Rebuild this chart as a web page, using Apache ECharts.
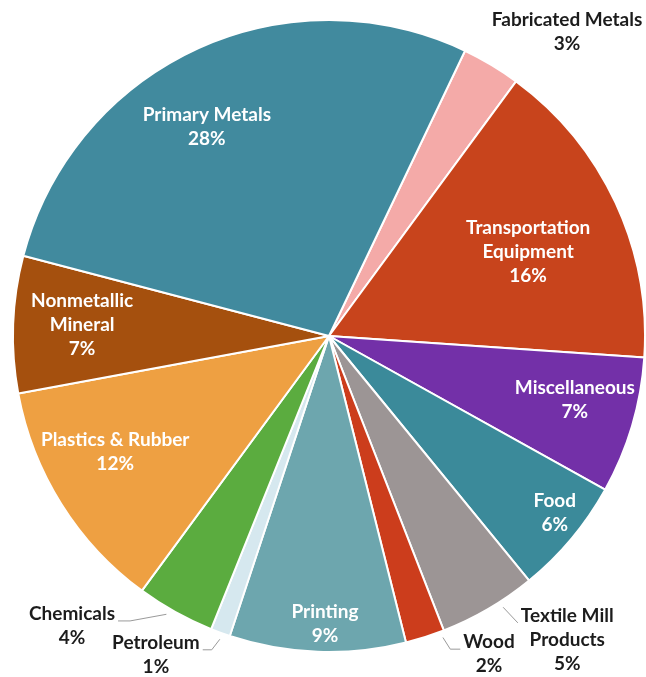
<!DOCTYPE html>
<html>
<head>
<meta charset="utf-8">
<script src="https://cdn.jsdelivr.net/npm/echarts@6/dist/echarts.min.js"></script>
<style>
  html, body { margin: 0; padding: 0; background: #ffffff; }
  #chart { width: 646px; height: 677px; }
</style>
</head>
<body>
<div id="chart"></div>
<script>
// Industry shares, clockwise from the top
const categories = [
  'Fabricated Metals', 'Transportation Equipment', 'Miscellaneous', 'Food',
  'Textile Mill Products', 'Wood', 'Printing', 'Petroleum', 'Chemicals',
  'Plastics & Rubber', 'Nonmetallic Mineral', 'Primary Metals'
];
const shares = [3, 16, 7, 6, 5, 2, 9, 1, 4, 12, 7, 28];
// How each name is broken over lines in its label
const labelNames = [
  'Fabricated Metals', 'Transportation\nEquipment', 'Miscellaneous', 'Food',
  'Textile Mill\nProducts', 'Wood', 'Printing', 'Petroleum', 'Chemicals',
  'Plastics & Rubber', 'Nonmetallic\nMineral', 'Primary Metals'
];
const colors = [
  '#f4aaa8', '#c8441c', '#7330a8', '#3b8a9a', '#9c9595', '#cc3d1c',
  '#6da6ae', '#d6e8ef', '#5bac3f', '#eea042', '#a5500e', '#418a9e'
];

// Geometry of the pie
const CX = 329, CY = 336, R = 316;
const START = 64.5;          // ECharts start angle (degrees, ccw from 3 o'clock)
const LINE_H = 24;

// Label placement: distance from centre (fraction of radius) and turn from the slice's mid-angle.
// Outside labels also carry a leader: where it meets the slice and which side the text sits on.
const labelPlacement = [
  { reach: 1.222, turn: 7.16, outside: true },
  { reach: 0.684, turn: 2.0 },
  { reach: 0.804, turn: -1.9 },
  { reach: 0.908, turn: -1.8 },
  { reach: 1.222, turn: -7.8, outside: true, lead: { turn: -2.4, side: 1, bend: 0 } },
  { reach: 1.127, turn: -9.0, outside: true, lead: { turn: -3.0, side: 1, bend: 10 } },
  { reach: 0.911, turn: -1.3 },
  { reach: 1.148, turn: 8.4, outside: true, lead: { turn: -0.3, side: -1, bend: 9 } },
  { reach: 1.226, turn: 12.45, outside: true, lead: { turn: 1.2, side: -1, bend: 12 } },
  { reach: 0.770, turn: 3.6 },
  { reach: 0.782, turn: 0.45 },
  { reach: 0.766, turn: -5.4 }
];

const total = shares.reduce((a, b) => a + b, 0);

// Mid-angle of slice i, in degrees clockwise from 12 o'clock
function midAngle(i) {
  let before = 0;
  for (let k = 0; k < i; k++) before += shares[k];
  return 90 - START + (before + shares[i] / 2) / total * 360;
}

function polar(reach, deg) {
  const t = deg * Math.PI / 180;
  return [CX + reach * R * Math.sin(t), CY - reach * R * Math.cos(t)];
}

const data = categories.map((name, i) => {
  const pl = labelPlacement[i];
  return {
    name: name,
    value: shares[i],
    itemStyle: { color: colors[i] },
    label: {
      position: pl.outside ? 'outside' : 'inside',
      color: pl.outside ? '#1c1c1c' : '#ffffff'
    },
    labelLine: { show: !!pl.lead }
  };
});

const chart = echarts.init(document.getElementById('chart'), null, { renderer: 'canvas' });

chart.setOption({
  backgroundColor: '#ffffff',
  animation: false,
  series: [{
    type: 'pie',
    center: [CX, CY],
    radius: [0, R],
    startAngle: START,
    clockwise: true,
    avoidLabelOverlap: false,
    emphasis: { disabled: true },
    itemStyle: { borderColor: '#ffffff', borderWidth: 2 },
    label: {
      show: true,
      fontFamily: 'Lato',
      fontWeight: 'bold',
      fontSize: 19,
      lineHeight: LINE_H,
      align: 'center',
      overflow: 'none',
      formatter: p => labelNames[p.dataIndex] + '\n' + p.value + '%'
    },
    labelLine: {
      show: false,
      lineStyle: { color: '#9a9a9a', width: 1 }
    },
    labelLayout: function (p) {
      const i = p.dataIndex;
      const pl = labelPlacement[i];
      const mid = midAngle(i);
      const pos = polar(pl.reach, mid + pl.turn);
      const out = { x: pos[0], y: pos[1], align: 'center', verticalAlign: 'middle' };
      if (pl.lead) {
        const w = p.labelRect.width, h = p.labelRect.height;
        const ld = pl.lead;
        const ex = ld.side < 0 ? pos[0] + w / 2 + 3 : pos[0] - w / 2 - 3;
        const ey = pos[1] - h / 2 + LINE_H / 2 + 7;
        const start = polar(1.02, mid + ld.turn);
        const bx = ex + (ld.side < 0 ? ld.bend : -ld.bend);
        out.labelLinePoints = [start, [bx, ey], [ex, ey]];
      }
      return out;
    },
    data: data
  }]
});
</script>
</body>
</html>
